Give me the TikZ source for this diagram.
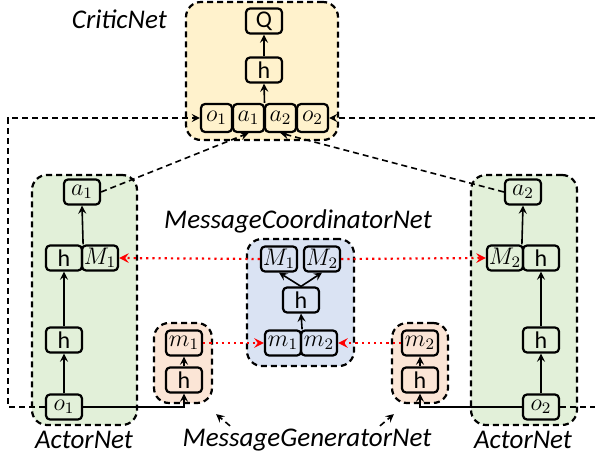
\documentclass[tikz,border=0pt]{standalone}
\usepackage{fontspec}
\setmainfont{Carlito}
\usepackage{amsmath}
\usepackage{tikz}
\usetikzlibrary{positioning}
\usetikzlibrary{calc}
\definecolor{criticfill}{HTML}{FFF2CC}
\definecolor{actorfill}{HTML}{E2F0D9}
\definecolor{genfill}{HTML}{FBE5D6}
\definecolor{coordfill}{HTML}{DAE3F3}
\tikzstyle{group}=[draw, dash pattern=on 3pt off 2pt, line width=1.1pt, rounded corners=7.5pt]
\tikzstyle{unit}=[draw, line width=1.1pt, rounded corners=2pt, minimum width=18pt, minimum height=12.5pt, inner sep=0pt, font=\fontsize{12}{14}\selectfont]
\tikzstyle{cell}=[unit, minimum width=15.5pt, minimum height=14pt]
\tikzstyle{netlabel}=[font=\fontsize{13.5}{15}\selectfont\itshape]
\tikzstyle{arrow}=[->, >=stealth, line width=0.8pt]
\tikzstyle{link}=[->, >=stealth, dash pattern=on 3pt off 2pt, line width=0.8pt]
\tikzstyle{msg}=[->, >=stealth, red, dotted, line width=1.1pt]

\begin{document}
\begin{tikzpicture}[x=0.5pt, y=-0.5pt]
      \useasboundingbox (0,0) rectangle (595,460);

      % groups
      \node [group, fill=criticfill, minimum width=76pt, minimum height=69pt] (critic) at (262,71) {};
      \node [group, fill=actorfill, minimum width=52.5pt, minimum height=125pt] (actor1) at (84.5,300) {};
      \node [group, fill=actorfill, minimum width=53pt, minimum height=125pt] (actor2) at (524,300) {};
      \node [group, fill=genfill, minimum width=29pt, minimum height=40pt] (gen1) at (183,363) {};
      \node [group, fill=genfill, minimum width=28pt, minimum height=40pt] (gen2) at (420,363) {};
      \node [group, fill=coordfill, minimum width=53.5pt, minimum height=63.5pt] (coord) at (300.5,302.5) {};

      \node [netlabel, anchor=east] (criticlbl) at (174,19) {CriticNet};
      \node [netlabel] (coordlbl) at (298,221) {MessageCoordinatorNet};
      \node [netlabel] (actorlbl1) at (84,440) {ActorNet};
      \node [netlabel] (actorlbl2) at (523,440) {ActorNet};
      \node [netlabel] (genlbl) at (307,440) {MessageGeneratorNet};

      % critic
      \node [unit] (cQ) at (264,21) {Q};
      \node [unit] (ch) at (264,70) {h};
      \node [cell] (co1) at (216.5,118) {$o_1$};
      \node [cell] (ca1) at (248.5,118) {$a_1$};
      \node [cell] (ca2) at (280.5,118) {$a_2$};
      \node [cell] (co2) at (312.5,118) {$o_2$};

      % actor 1
      \node [unit] (aa1) at (82,192) {$a_1$};
      \node [unit] (ah2) at (64,258) {h};
      \node [unit] (aM1) at (100,258) {$M_1$};
      \node [unit] (ah1) at (64,340) {h};
      \node [unit] (ao1) at (64,407) {$o_1$};

      % actor 2
      \node [unit] (ba2) at (523,192) {$a_2$};
      \node [unit] (bM2) at (505,258) {$M_2$};
      \node [unit] (bh2) at (541,258) {h};
      \node [unit] (bh1) at (541,340) {h};
      \node [unit] (bo2) at (541,407) {$o_2$};

      % generators
      \node [unit] (gm1) at (184,343) {$m_1$};
      \node [unit] (gh1) at (184,380) {h};
      \node [unit] (gm2) at (420,343) {$m_2$};
      \node [unit] (gh2) at (420,380) {h};

      % coordinator
      \node [unit] (mM1) at (279,259) {$M_1$};
      \node [unit] (mM2) at (322,259) {$M_2$};
      \node [unit] (mh) at (301,300) {h};
      \node [unit] (mm1) at (283,343) {$m_1$};
      \node [unit] (mm2) at (319,343) {$m_2$};

      \coordinate (ltop) at (8,118);
      \coordinate (rtop) at (595,118);
      \coordinate (rbot) at (595,407);

      \draw [arrow] ($(ca1.north east)!0.5!(ca2.north west)$) -- (ch.south);
      \draw [arrow] (ch) -- (cQ);

      \draw [arrow] (ao1) -- (ah1);
      \draw [arrow] (ah1) -- (ah2);
      \draw [arrow] (ah2.north east) -- (aa1.south);
      \draw [arrow] (bo2) -- (bh1);
      \draw [arrow] (bh1) -- (bh2);
      \draw [arrow] (bh2.north west) -- (ba2.south);

      \draw [arrow] (gh1) -- (gm1);
      \draw [arrow] (gh2) -- (gm2);
      \draw [arrow] (ao1.east) -| (gh1.south);
      \draw [arrow] (bo2.west) -| (gh2.south);

      \draw [arrow] (mm1.north east) -- (mh.south);
      \draw [arrow] (mh.north) -- (mM1.south);
      \draw [arrow] (mh.north) -- (mM2.south);

      \draw [msg] (mM1.west) -- (aM1.east);
      \draw [msg] (mM2.east) -- (bM2.west);
      \draw [msg] (gm1.east) -- (mm1.west);
      \draw [msg] (gm2.west) -- (mm2.east);

      \draw [link] (aa1.east) -- (ca1.south);
      \draw [link] (ba2.west) -- (ca2.south);
      \draw [link] (ao1.west) -| (ltop) -- (co1.west);
      \draw [link, -] (bo2.east) -- (rbot);
      \draw [link] (rtop) -- (co2.east);

      \draw [link] ($(genlbl.north)+(-77,4)$) -- ($(gen1.south east)+(3,10)$);
      \draw [link] ($(genlbl.north)+(73,4)$) -- ($(gen2.south west)+(3,10)$);
    \end{tikzpicture}
\end{document}
